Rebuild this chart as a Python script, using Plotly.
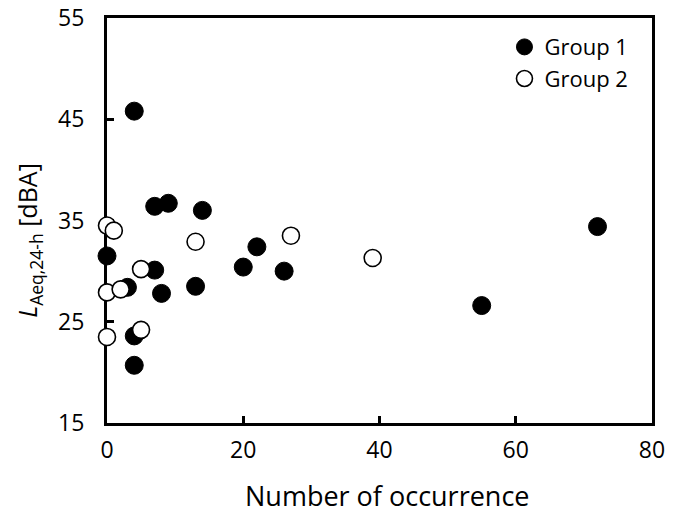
import plotly.graph_objects as go

# Group 1 (filled)
g1_x = [4, 7, 9, 14, 0, 7, 3, 8, 13, 4, 4, 22, 20, 26, 55, 72]
g1_y = [45.8, 36.4, 36.7, 36.0, 31.5, 30.1, 28.4, 27.8, 28.5, 23.6, 20.7, 32.4, 30.4, 30.0, 26.6, 34.4]
# Group 2 (open)
g2_x = [0, 1, 13, 5, 0, 2, 0, 5, 27, 39]
g2_y = [34.5, 34.0, 32.9, 30.2, 27.9, 28.2, 23.5, 24.2, 33.5, 31.3]

x_ticks = [0, 20, 40, 60, 80]
y_ticks = [15, 25, 35, 45, 55]

FONT = "Open Sans"

fig = go.Figure()
fig.add_trace(go.Scatter(
    x=g1_x, y=g1_y, mode="markers", name="Group 1", cliponaxis=False,
    marker=dict(size=18, color="black", line=dict(color="black", width=1)),
))
fig.add_trace(go.Scatter(
    x=g2_x, y=g2_y, mode="markers", name="Group 2", cliponaxis=False,
    marker=dict(size=17, color="white", line=dict(color="black", width=1.6)),
))

axis_common = dict(
    showline=True, linecolor="black", linewidth=3, mirror=True,
    ticks="inside", ticklen=7, tickwidth=2.5, tickcolor="black",
    showgrid=False, zeroline=False, automargin=False, layer="below traces",
    tickfont=dict(family=FONT, size=23, color="black"),
)

fig.update_layout(
    width=683, height=517,
    margin=dict(l=107, r=31, t=18, b=94),
    paper_bgcolor="white", plot_bgcolor="white",
    font=dict(family=FONT, color="black"),
    xaxis=dict(range=[0, 80], tickvals=x_ticks, ticklabelstandoff=4, **axis_common),
    yaxis=dict(range=[15, 55], tickvals=y_ticks, ticklabelstandoff=15, **axis_common),
    legend=dict(x=0.966, y=0.98, xanchor="right", yanchor="top",
                bgcolor="rgba(0,0,0,0)", font=dict(family=FONT, size=22),
                itemwidth=30, tracegroupgap=0),
    showlegend=True,
    annotations=[
        dict(text="Number of occurrence", xref="paper", yref="paper",
             x=0.514, y=-0.18, xanchor="center", yanchor="middle",
             showarrow=False, font=dict(family=FONT, size=27, color="black")),
        dict(text="<i>L</i><sub>Aeq,24-h</sub> [dBA]", xref="paper", yref="paper",
             x=-0.143, y=0.45, xanchor="center", yanchor="middle", textangle=-90,
             showarrow=False, font=dict(family=FONT, size=25, color="black")),
    ],
)

fig.write_html("out.html", config={"displayModeBar": False},
               post_script="document.body.style.margin='0';document.body.style.overflow='hidden';")
